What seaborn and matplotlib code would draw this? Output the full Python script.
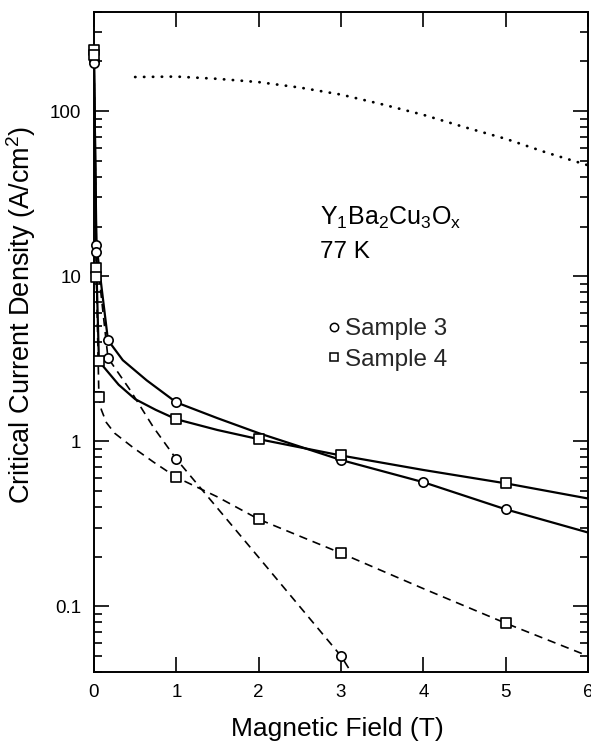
import matplotlib
matplotlib.use('Agg')
import matplotlib.pyplot as plt
import seaborn as sns
import pandas as pd
from matplotlib.lines import Line2D
from matplotlib.ticker import LogLocator, NullFormatter

# ---------------- data ----------------
# Sample 3, solid curve (circles)
s3a_curve_x = [0, 0.03, 0.17, 0.35, 0.64, 1, 1.5, 2, 3, 4, 5, 6]
s3a_curve_y = [200, 15.4, 4.1, 3.1, 2.34, 1.72, 1.38, 1.12, 0.77, 0.565, 0.387, 0.28]
s3a_pts_x = [0, 0.03, 0.17, 1, 3, 4, 5]
s3a_pts_y = [200, 15.4, 4.1, 1.72, 0.77, 0.565, 0.387]

# Sample 3, dashed curve (circles)
s3b_curve_x = [0, 0.03, 0.17, 0.44, 0.72, 1, 2, 3, 3.15]
s3b_curve_y = [195, 14.0, 3.2, 2.04, 1.22, 0.78, 0.198, 0.05, 0.038]
s3b_pts_x = [0, 0.03, 0.17, 1, 3]
s3b_pts_y = [195, 14.0, 3.2, 0.78, 0.05]

# Sample 4, solid curve (squares)
s4a_curve_x = [0, 0.03, 0.06, 0.15, 0.3, 0.5, 0.75, 1, 1.5, 2, 3, 4, 5, 6]
s4a_curve_y = [235, 11.2, 3.06, 2.7, 2.2, 1.8, 1.55, 1.36, 1.17, 1.03, 0.82, 0.67, 0.556, 0.45]
s4a_pts_x = [0, 0.03, 0.06, 1, 2, 3, 5]
s4a_pts_y = [235, 11.2, 3.06, 1.36, 1.03, 0.82, 0.556]

# Sample 4, dashed curve (squares)
s4b_curve_x = [0, 0.03, 0.06, 0.09, 0.15, 0.25, 0.47, 0.72, 1, 1.5, 2, 3, 4, 5, 6]
s4b_curve_y = [220, 9.9, 1.85, 1.55, 1.3, 1.12, 0.92, 0.75, 0.605, 0.46, 0.337, 0.21, 0.128, 0.079, 0.05]
s4b_pts_x = [0, 0.03, 0.06, 1, 2, 3, 5]
s4b_pts_y = [220, 9.9, 1.85, 0.605, 0.337, 0.21, 0.079]

# Dotted curve
dot_x = [0.5, 1, 1.5, 2, 2.5, 3, 3.5, 4, 4.5, 5, 5.5, 6]
dot_y = [161, 162, 157, 150, 139, 126, 110, 95, 80, 68, 56, 47]

x_ticks = [0, 1, 2, 3, 4, 5, 6]
x_ticklabels = ['0', '1', '2', '3', '4', '5', '6']
y_ticks = [0.1, 1, 10, 100]
y_ticklabels = ['0.1', '1', '10', '100']
legend_labels = ['Sample 3', 'Sample 4']

# ---------------- style ----------------
sns.set_theme(style='ticks')
plt.rcParams['font.family'] = ['Liberation Sans', 'DejaVu Sans']
plt.rcParams['mathtext.fontset'] = 'custom'
plt.rcParams['mathtext.rm'] = 'Liberation Sans'
plt.rcParams['mathtext.it'] = 'Liberation Sans:italic'
plt.rcParams['mathtext.bf'] = 'Liberation Sans:bold'

fig = plt.figure(figsize=(5.91, 7.46), dpi=100)
ax = fig.add_axes([0.159, 0.0992, 0.836, 0.885])

solid_kw = dict(color='black', linewidth=1.6, estimator=None, sort=False, legend=False)
dash_kw = dict(color='black', linewidth=1.2, estimator=None, sort=False, legend=False,
               linestyle=(0, (5, 3.5)))

sns.lineplot(x=s3a_curve_x, y=s3a_curve_y, ax=ax, **solid_kw)
sns.lineplot(x=s4a_curve_x, y=s4a_curve_y, ax=ax, **solid_kw)
sns.lineplot(x=s3b_curve_x, y=s3b_curve_y, ax=ax, **dash_kw)
sns.lineplot(x=s4b_curve_x, y=s4b_curve_y, ax=ax, **dash_kw)
sns.lineplot(x=dot_x, y=dot_y, ax=ax, color='black', linewidth=2.0, estimator=None,
             sort=False, legend=False, linestyle=(0, (0.1, 3.1)), dash_capstyle='round')

mk_kw = dict(color='white', edgecolor='black', linewidth=1.2, s=45, zorder=4,
             clip_on=False, legend=False)
for px, py in [(s3a_pts_x, s3a_pts_y), (s3b_pts_x, s3b_pts_y)]:
    sns.scatterplot(x=px, y=py, marker='o', ax=ax, **mk_kw)
for px, py in [(s4a_pts_x, s4a_pts_y), (s4b_pts_x, s4b_pts_y)]:
    sns.scatterplot(x=px, y=py, marker='s', ax=ax, **mk_kw)

ax.set_yscale('log')
ax.set_xlim(0, 6)
ax.set_ylim(0.04, 400)
ax.set_xticks(x_ticks)
ax.set_xticklabels(x_ticklabels)
ax.set_yticks(y_ticks)
ax.set_yticklabels(y_ticklabels)
ax.yaxis.set_minor_locator(LogLocator(base=10, subs=range(2, 10)))
ax.yaxis.set_minor_formatter(NullFormatter())
ax.tick_params(which='both', direction='in', top=True, right=True, color='black',
               width=1.2, labelsize=13.5, pad=9, labelcolor='black')
ax.tick_params(which='major', length=10.5)
ax.tick_params(which='minor', length=5.5)
for sp in ax.spines.values():
    sp.set_linewidth(1.4)
    sp.set_color('black')

ax.set_xlabel('Magnetic Field (T)', fontsize=19, color='black')
ax.set_ylabel('Critical Current Density (A/cm$^2$)', fontsize=19.5, color='black')
ax.xaxis.set_label_coords(0.493, -0.068)
ax.yaxis.set_label_coords(-0.113, 0.541)

ax.text(2.74, 20.4, r'$\mathrm{Y_1Ba_2Cu_3O_x}$', fontsize=18, color='black', va='baseline')
ax.text(2.74, 12.9, '77 K', fontsize=17.5, color='black', va='baseline')

handles = [Line2D([], [], linestyle='none', marker='o', markersize=6,
                  markerfacecolor='white', markeredgecolor='black', markeredgewidth=1.1),
           Line2D([], [], linestyle='none', marker='s', markersize=6,
                  markerfacecolor='white', markeredgecolor='black', markeredgewidth=1.1)]
ax.legend(handles, legend_labels, loc='upper left', bbox_to_anchor=(0.472, 0.536),
          frameon=False, fontsize=17.5, handlelength=0.55, handletextpad=0.2,
          borderpad=0, borderaxespad=0, labelspacing=0.35)

fig.savefig('out.png', dpi=100, facecolor='white')
